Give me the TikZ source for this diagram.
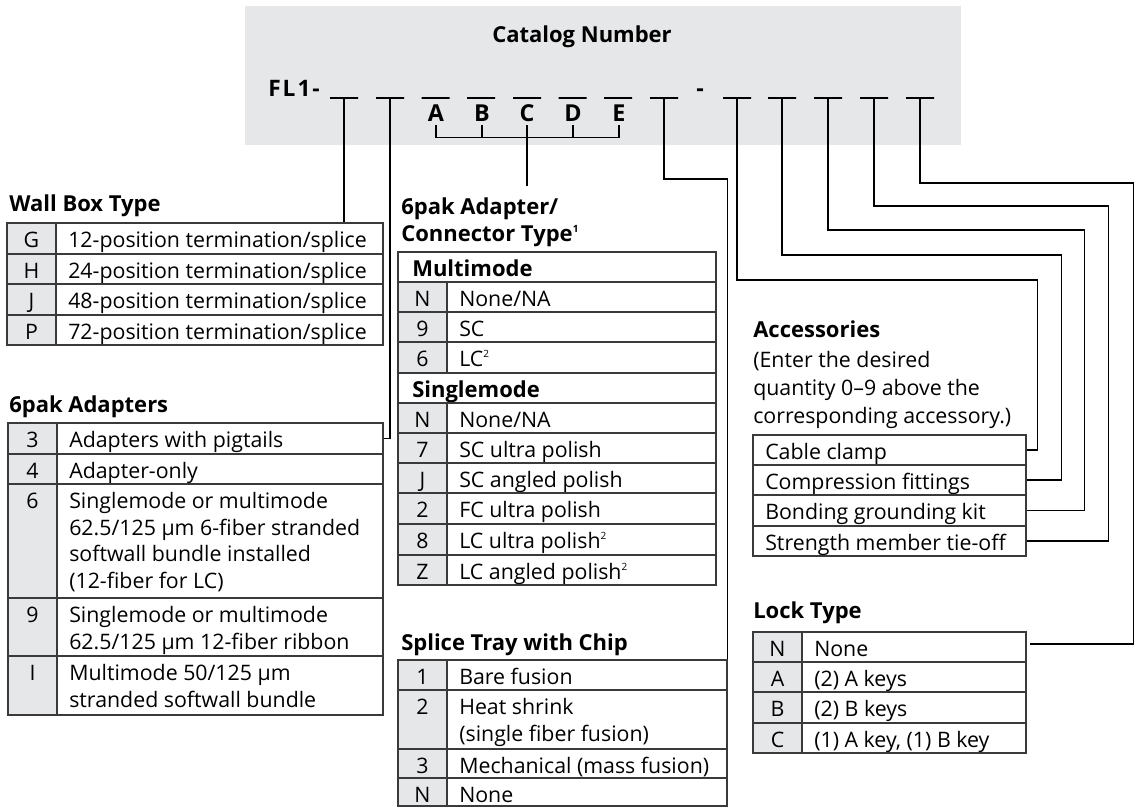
\documentclass[tikz,border=0pt]{standalone}
\usepackage{fontspec}
\setmainfont{Open Sans}
\usetikzlibrary{fit,calc}
\definecolor{hdrgray}{HTML}{E6E7E8}
\definecolor{rulegray}{HTML}{3A3A3A}
\newcommand\supnum[1]{\raisebox{0.42em}{\fontsize{7.5}{7.5}\selectfont #1}}
\newcommand\krow[8]{%
  \node[tkey, fit={(#2,#5) (#3,#6)}] (#1k) {};
  \node[tcell, fit={(#3,#5) (#4,#6)}] (#1) {};
  \node[tktxt] (#1kt) at ({(#2+#3)/2},{#5+24.5}) {#7};
  \node[ttxt] (#1t) at ({#3+12},{#5+24.5}) {#8};
}
\newcommand\hrow[6]{%
  \node[tcell, fit={(#2,#4) (#3,#5)}] (#1) {};
  \node[tbtxt] (#1t) at ({#2+14},{#4+24.5}) {#6};
}
\begin{document}
\begin{tikzpicture}[x=0.75pt,y=-0.75pt,
  tcell/.style={draw=rulegray, line width=0.9pt, inner sep=0pt},
  tkey/.style={tcell, fill=hdrgray},
  ttxt/.style={anchor=base west, inner sep=0pt, font=\fontsize{16}{19}\selectfont},
  tktxt/.style={anchor=base, inner sep=0pt, font=\fontsize{16}{19}\selectfont},
  tttl/.style={anchor=base west, inner sep=0pt, font=\fontsize{16.5}{20}\selectfont\bfseries},
  tbtxt/.style={anchor=base west, inner sep=0pt, font=\fontsize{16.5}{20}\selectfont\bfseries},
  tletter/.style={anchor=base, inner sep=0pt, font=\fontsize{17.5}{20}\selectfont\bfseries},
  tblank/.style={draw=black, line width=1pt, minimum width=21pt, minimum height=0pt, inner sep=0pt},
  tconn/.style={draw=black, line width=1pt},
]
\useasboundingbox (0,0) rectangle (1135,809);

% header
\node[fill=hdrgray, inner sep=0pt, fit={(245,6) (961,145)}] (hdr) {};
\node[tttl] (catno) at (492,43) {Catalog Number};
\node[tttl, font=\fontsize{17}{20}\selectfont\bfseries] (fl1) at (268,97) {F\kern1.5pt L\kern1.5pt 1\kern1.5pt -};
\foreach \i/\x in {1/344,2/390,3/435.5,4/481,5/527,6/572.5,7/618,8/664,9/737,10/782,11/828,12/874,13/920}
  \node[tblank] (b\i) at (\x,98) {};
\node[tletter] (dash) at (700,97) {-};
\node[tletter] (lA) at (436,122) {A};
\node[tletter] (lB) at (482,122) {B};
\node[tletter] (lC) at (527,122) {C};
\node[tletter] (lD) at (573,122) {D};
\node[tletter] (lE) at (619,122) {E};

% Wall box type
\node[tttl] (wbT) at (9,212) {Wall Box Type};
\krow{wb1}{7}{56}{383}{223}{254}{G}{12-position termination/splice}
\krow{wb2}{7}{56}{383}{254}{284}{H}{24-position termination/splice}
\krow{wb3}{7}{56}{383}{284}{315}{J}{48-position termination/splice}
\krow{wb4}{7}{56}{383}{315}{345}{P}{72-position termination/splice}

% 6pak adapters
\node[tttl] (paT) at (9,412) {6pak Adapters};
\krow{pa1}{8}{57}{383}{423}{454}{3}{Adapters with pigtails}
\krow{pa2}{8}{57}{383}{454}{484}{4}{Adapter-only}
\krow{pa3}{8}{57}{383}{484}{598}{6}{Singlemode or multimode}
\node[ttxt] (pa3b) at (69,535.2) {62.5/125 µm 6-fiber stranded};
\node[ttxt] (pa3c) at (69,561.9) {softwall bundle installed};
\node[ttxt] (pa3d) at (69,588.6) {(12-fiber for LC)};
\krow{pa4}{8}{57}{383}{598}{656}{9}{Singlemode or multimode}
\node[ttxt] (pa4b) at (69,649.2) {62.5/125 µm 12-fiber ribbon};
\krow{pa5}{8}{57}{383}{656}{715}{I}{Multimode 50/125 µm}
\node[ttxt] (pa5b) at (69,707.2) {stranded softwall bundle};

% 6pak adapter / connector type
\node[tttl] (ctT1) at (401,215) {6pak Adapter/};
\node[tttl] (ctT2) at (401,242) {Connector Type\supnum{1}};
\hrow{ct0}{398}{716}{252}{282}{Multimode}
\krow{ct1}{398}{447}{716}{282}{312}{N}{None/NA}
\krow{ct2}{398}{447}{716}{312}{342}{9}{SC}
\krow{ct3}{398}{447}{716}{342}{373}{6}{LC\supnum{2}}
\hrow{ct4}{398}{716}{373}{403}{Singlemode}
\krow{ct5}{398}{447}{716}{403}{433}{N}{None/NA}
\krow{ct6}{398}{447}{716}{433}{463}{7}{SC ultra polish}
\krow{ct7}{398}{447}{716}{463}{493}{J}{SC angled polish}
\krow{ct8}{398}{447}{716}{493}{524}{2}{FC ultra polish}
\krow{ct9}{398}{447}{716}{524}{555}{8}{LC ultra polish\supnum{2}}
\krow{ct10}{398}{447}{716}{555}{585}{Z}{LC angled polish\supnum{2}}

% splice tray
\node[tttl] (stT) at (401,650) {Splice Tray with Chip};
\krow{st1}{398}{447}{727}{660}{690}{1}{Bare fusion}
\krow{st2}{398}{447}{727}{690}{749}{2}{Heat shrink}
\node[ttxt] (st2b) at (459,741.2) {(single fiber fusion)};
\krow{st3}{398}{447}{727}{749}{778}{3}{Mechanical (mass fusion)}
\krow{st4}{398}{447}{727}{778}{806}{N}{None}

% accessories
\node[tttl] (accT) at (753,337) {Accessories};
\node[ttxt] (accP1) at (753,367) {(Enter the desired};
\node[ttxt] (accP2) at (753,395) {quantity 0–9 above the};
\node[ttxt] (accP3) at (753,423) {corresponding accessory.)};
\node[tcell, fit={(753,435) (1026,465)}] (acc1) {};
\node[ttxt] (acc1t) at (765,459.5) {Cable clamp};
\node[tcell, fit={(753,465) (1026,495)}] (acc2) {};
\node[ttxt] (acc2t) at (765,489.5) {Compression fittings};
\node[tcell, fit={(753,495) (1026,526)}] (acc3) {};
\node[ttxt] (acc3t) at (765,519.5) {Bonding grounding kit};
\node[tcell, fit={(753,526) (1026,556)}] (acc4) {};
\node[ttxt] (acc4t) at (765,550.5) {Strength member tie-off};

% lock type
\node[tttl] (lkT) at (753,618) {Lock Type};
\krow{lk1}{753}{802}{1026}{632}{662}{N}{None}
\krow{lk2}{753}{802}{1026}{662}{692}{A}{(2) A keys}
\krow{lk3}{753}{802}{1026}{692}{723}{B}{(2) B keys}
\krow{lk4}{753}{802}{1026}{723}{753}{C}{(1) A key, (1) B key}

% bracket under A-E
\draw[tconn] (lA.south) ++(0,3) -- ++(0,12) -- ($(lE.south)+(0,15)$) -- ++(0,-12);
\draw[tconn] (lB.south) ++(0,3) -- ++(0,12);
\draw[tconn] (lD.south) ++(0,3) -- ++(0,12);
\draw[tconn] (lC.south) ++(0,3) -- ($(lC.south |- ctT1.north)+(0,-12)$);

% connectors
\draw[tconn] (b1.center) -- (b1.center |- wb1.north);
\draw[tconn] (b2.center) |- (pa1.east);
\draw[tconn] (b8.center) -- ++(0,81) -| (st1.north east);
\draw[tconn] (b9.center) -- ++(0,182) -| ($(acc1.east)+(11,0)$) -- (acc1.east);
\draw[tconn] (b10.center) -- ++(0,157) -| ($(acc2.east)+(35,0)$) -- (acc2.east);
\draw[tconn] (b11.center) -- ++(0,132) -| ($(acc3.east)+(58,0)$) -- (acc3.east);
\draw[tconn] (b12.center) -- ++(0,108) -| ($(acc4.east)+(82,0)$) -- (acc4.east);
\draw[tconn] (b13.center) -- ++(0,85) -| ($(lk1.east)+(107,-3)$) -- ($(lk1.east)+(3,-3)$);
\end{tikzpicture}
\end{document}
